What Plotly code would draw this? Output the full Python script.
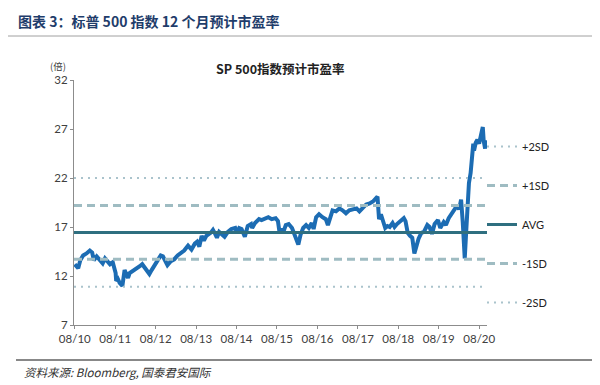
import plotly.graph_objects as go

# ---------------- data ----------------
dates = [
    "2010-08-01", "2010-08-20", "2010-09-01", "2010-09-20", "2010-10-15", "2010-11-15", "2010-12-15",
    "2011-01-05", "2011-01-20", "2011-02-15", "2011-03-15", "2011-04-10", "2011-05-01", "2011-05-20",
    "2011-06-15", "2011-07-10", "2011-07-25", "2011-08-05", "2011-08-10", "2011-08-25", "2011-09-10",
    "2011-09-25", "2011-10-05", "2011-10-25", "2011-11-10", "2011-11-25", "2011-12-10",
    "2012-01-10", "2012-02-10", "2012-03-10", "2012-04-01", "2012-04-20", "2012-05-15", "2012-06-05",
    "2012-06-25", "2012-07-15", "2012-08-10", "2012-09-15", "2012-10-05", "2012-10-25", "2012-11-15",
    "2012-12-15",
    "2013-01-15", "2013-02-15", "2013-03-15", "2013-04-15", "2013-05-20", "2013-06-20", "2013-07-20",
    "2013-08-10", "2013-08-30", "2013-09-20", "2013-10-10", "2013-11-01", "2013-12-10", "2013-12-31",
    "2014-01-20", "2014-02-05", "2014-02-25", "2014-03-20", "2014-04-15", "2014-05-15", "2014-06-15",
    "2014-07-20", "2014-08-05", "2014-08-25", "2014-09-15", "2014-10-15", "2014-11-10", "2014-12-10",
    "2014-12-20",
    "2015-01-15", "2015-02-20", "2015-03-15", "2015-04-15", "2015-05-15", "2015-06-15", "2015-07-20",
    "2015-08-10", "2015-08-25", "2015-09-10", "2015-09-28", "2015-10-20", "2015-11-15", "2015-12-15",
    "2016-01-10", "2016-02-10", "2016-03-01", "2016-03-25", "2016-04-20", "2016-05-15", "2016-06-10",
    "2016-06-27", "2016-07-20", "2016-08-15", "2016-09-15", "2016-10-15", "2016-11-03", "2016-11-25",
    "2016-12-15",
    "2017-01-15", "2017-02-15", "2017-03-15", "2017-04-15", "2017-05-15", "2017-06-15", "2017-07-20",
    "2017-08-15", "2017-09-15", "2017-10-15", "2017-11-15", "2017-12-15",
    "2018-01-25", "2018-02-08", "2018-02-25", "2018-03-20", "2018-04-05", "2018-04-25", "2018-05-15",
    "2018-06-10", "2018-06-28", "2018-07-20", "2018-08-15", "2018-09-20", "2018-10-05", "2018-10-25",
    "2018-11-15", "2018-12-05", "2018-12-24",
    "2019-01-10", "2019-01-31", "2019-02-25", "2019-03-20", "2019-04-20", "2019-05-10", "2019-06-01",
    "2019-06-25", "2019-07-25", "2019-08-15", "2019-09-15", "2019-10-05", "2019-10-30", "2019-11-25",
    "2019-12-20",
    "2020-01-15", "2020-02-01", "2020-02-19", "2020-03-05", "2020-03-12", "2020-03-23", "2020-04-05",
    "2020-04-15", "2020-04-30", "2020-05-15", "2020-05-30", "2020-06-08", "2020-06-15", "2020-06-30",
    "2020-07-15", "2020-07-31", "2020-08-15", "2020-09-02", "2020-09-10", "2020-09-23", "2020-10-01",
    "2020-10-08",
]
pe_values = [
    13.2, 13.0, 12.8, 13.6, 14.1, 14.3, 14.6,
    14.4, 13.6, 14.0, 13.7, 13.3, 13.8, 13.5,
    13.2, 13.4, 12.9, 12.3, 11.5, 11.7, 11.3,
    11.1, 11.0, 12.6, 12.2, 11.8, 12.3,
    12.5, 12.8, 13.0, 13.2, 12.9, 12.5, 12.2,
    12.6, 13.0, 13.5, 14.1, 14.0, 13.6, 13.1,
    13.5,
    13.7, 14.1, 14.3, 14.6, 15.1, 14.7, 15.3,
    15.5, 15.0, 16.1, 15.6, 16.1, 16.4, 16.7,
    16.3, 15.9, 16.5, 16.3, 16.0, 16.5, 16.8,
    16.9, 16.4, 16.9, 16.8, 16.0, 17.1, 17.3,
    16.9,
    17.4, 17.8, 17.7, 17.9, 18.0, 17.8, 17.9,
    17.6, 16.4, 16.8, 16.5, 17.2, 17.3, 16.9,
    16.0, 15.2, 16.2, 16.9, 17.2, 16.9, 17.4,
    16.8, 18.0, 18.3, 18.0, 17.8, 17.2, 18.2,
    18.7,
    18.6, 18.9, 18.7, 18.4, 18.7, 18.8, 18.9,
    18.6, 18.9, 19.3, 19.4, 19.6,
    20.1, 17.8, 18.3, 17.5, 16.9, 17.1, 17.0,
    17.4, 17.0, 17.3, 17.5, 17.9, 17.6, 16.4,
    16.1, 15.9, 14.3,
    15.1, 15.8, 16.4, 16.5, 17.2, 17.0, 16.3,
    17.3, 17.7, 16.9, 17.5, 17.2, 17.9, 18.3,
    18.7,
    19.2, 18.8, 19.8, 17.5, 15.5, 13.8, 16.5,
    19.0, 21.5, 22.5, 24.0, 25.5, 24.8, 25.6,
    25.9, 25.5, 26.3, 27.2, 25.8, 25.0, 25.8,
    25.5,
]

band_labels = ["+2SD", "+1SD", "AVG", "-1SD", "-2SD"]
band_values = [22.0, 19.2, 16.45, 13.7, 10.9]

y_ticks = [7, 12, 17, 22, 27, 32]
x_tick_dates = ["2010-08-01", "2011-08-01", "2012-08-01", "2013-08-01", "2014-08-01", "2015-08-01",
                "2016-08-01", "2017-08-01", "2018-08-01", "2019-08-01", "2020-08-01"]
x_tick_labels = ["08/10", "08/11", "08/12", "08/13", "08/14", "08/15",
                 "08/16", "08/17", "08/18", "08/19", "08/20"]

x_range = ["2010-07-25", "2020-10-10"]

# ---------------- styles ----------------
band_styles = {
    "+2SD": dict(color="#aac3cc", width=2, dash="2px,5px"),
    "+1SD": dict(color="#9fbcc2", width=3, dash="8px,5px"),
    "AVG": dict(color="#2f6f80", width=3, dash="solid"),
    "-1SD": dict(color="#9fbcc2", width=3, dash="8px,5px"),
    "-2SD": dict(color="#aac3cc", width=2, dash="2px,5px"),
}

fig = go.Figure()
fig.add_trace(go.Scatter(
    x=dates, y=pe_values, mode="lines",
    line=dict(color="#1c6cb3", width=4),
    showlegend=False, hoverinfo="skip",
))
for lab, val in zip(band_labels, band_values):
    fig.add_trace(go.Scatter(
        x=x_range, y=[val, val], mode="lines", name=lab,
        legendgroup=lab, line=band_styles[lab], hoverinfo="skip",
    ))

L, R, T, B = 66, 121, 72, 68
W, H = 600, 385
pw, ph = W - L - R, H - T - B

def px_x(x):
    return (x - L) / pw

def px_y(y):
    return (H - B - y) / ph

fig.update_layout(
    width=W, height=H,
    margin=dict(l=L, r=R, t=T, b=B),
    paper_bgcolor="white", plot_bgcolor="white",
    font=dict(family="Lato, 'Noto Sans CJK SC', sans-serif", size=11, color="#404040"),
    showlegend=True,
    legend=dict(
        x=px_x(474), y=px_y(124), xanchor="left", yanchor="top",
        traceorder="grouped", tracegroupgap=20,
        font=dict(size=11, color="#222222", family="Lato, sans-serif"),
        bgcolor="rgba(0,0,0,0)", itemwidth=30,
    ),
    xaxis=dict(
        type="date", range=x_range,
        tickvals=x_tick_dates, ticktext=x_tick_labels,
        showgrid=False, zeroline=False,
        showline=True, linecolor="#8c8c8c", linewidth=1,
        ticks="outside", ticklen=3, tickcolor="#8c8c8c",
        tickfont=dict(size=11.5, color="#404040"),
    ),
    yaxis=dict(
        range=[7, 32], tickvals=y_ticks,
        showgrid=False, zeroline=False,
        showline=True, linecolor="#8c8c8c", linewidth=1,
        ticks="outside", ticklen=3, tickcolor="#8c8c8c",
        tickfont=dict(size=11.5, color="#404040"),
    ),
)

# header / title / source text
fig.add_annotation(
    text="<b>图表 3：标普 500 指数 12 个月预计市盈率</b>",
    x=px_x(8), y=px_y(13), xref="paper", yref="paper", xanchor="left", yanchor="middle",
    showarrow=False, font=dict(size=14, color="#1f3d6b", family="'Noto Sans CJK SC', sans-serif"),
)
fig.add_annotation(
    text="<b>SP 500指数预计市盈率</b>",
    x=px_x(272), y=px_y(60), xref="paper", yref="paper", xanchor="center", yanchor="middle",
    showarrow=False, font=dict(size=12.5, color="#222222", family="'Noto Sans CJK SC', sans-serif"),
)
fig.add_annotation(
    text="(倍)",
    x=px_x(50), y=px_y(58), xref="paper", yref="paper", xanchor="center", yanchor="middle",
    showarrow=False, font=dict(size=9.5, color="#404040", family="'Noto Sans CJK SC', sans-serif"),
)
fig.add_annotation(
    text="<i>资料来源: Bloomberg, 国泰君安国际</i>",
    x=px_x(14), y=px_y(364), xref="paper", yref="paper", xanchor="left", yanchor="middle",
    showarrow=False, font=dict(size=11.5, color="#333333", family="'Noto Sans CJK SC', sans-serif"),
)

# separator rules
fig.add_shape(type="line", xref="paper", yref="paper",
              x0=px_x(0), x1=px_x(600), y0=px_y(28), y1=px_y(28),
              line=dict(color="#a0a0a0", width=1))
fig.add_shape(type="line", xref="paper", yref="paper",
              x0=px_x(8), x1=px_x(596), y0=px_y(352), y1=px_y(352),
              line=dict(color="#606060", width=1.5))

fig.write_html("out.html")
